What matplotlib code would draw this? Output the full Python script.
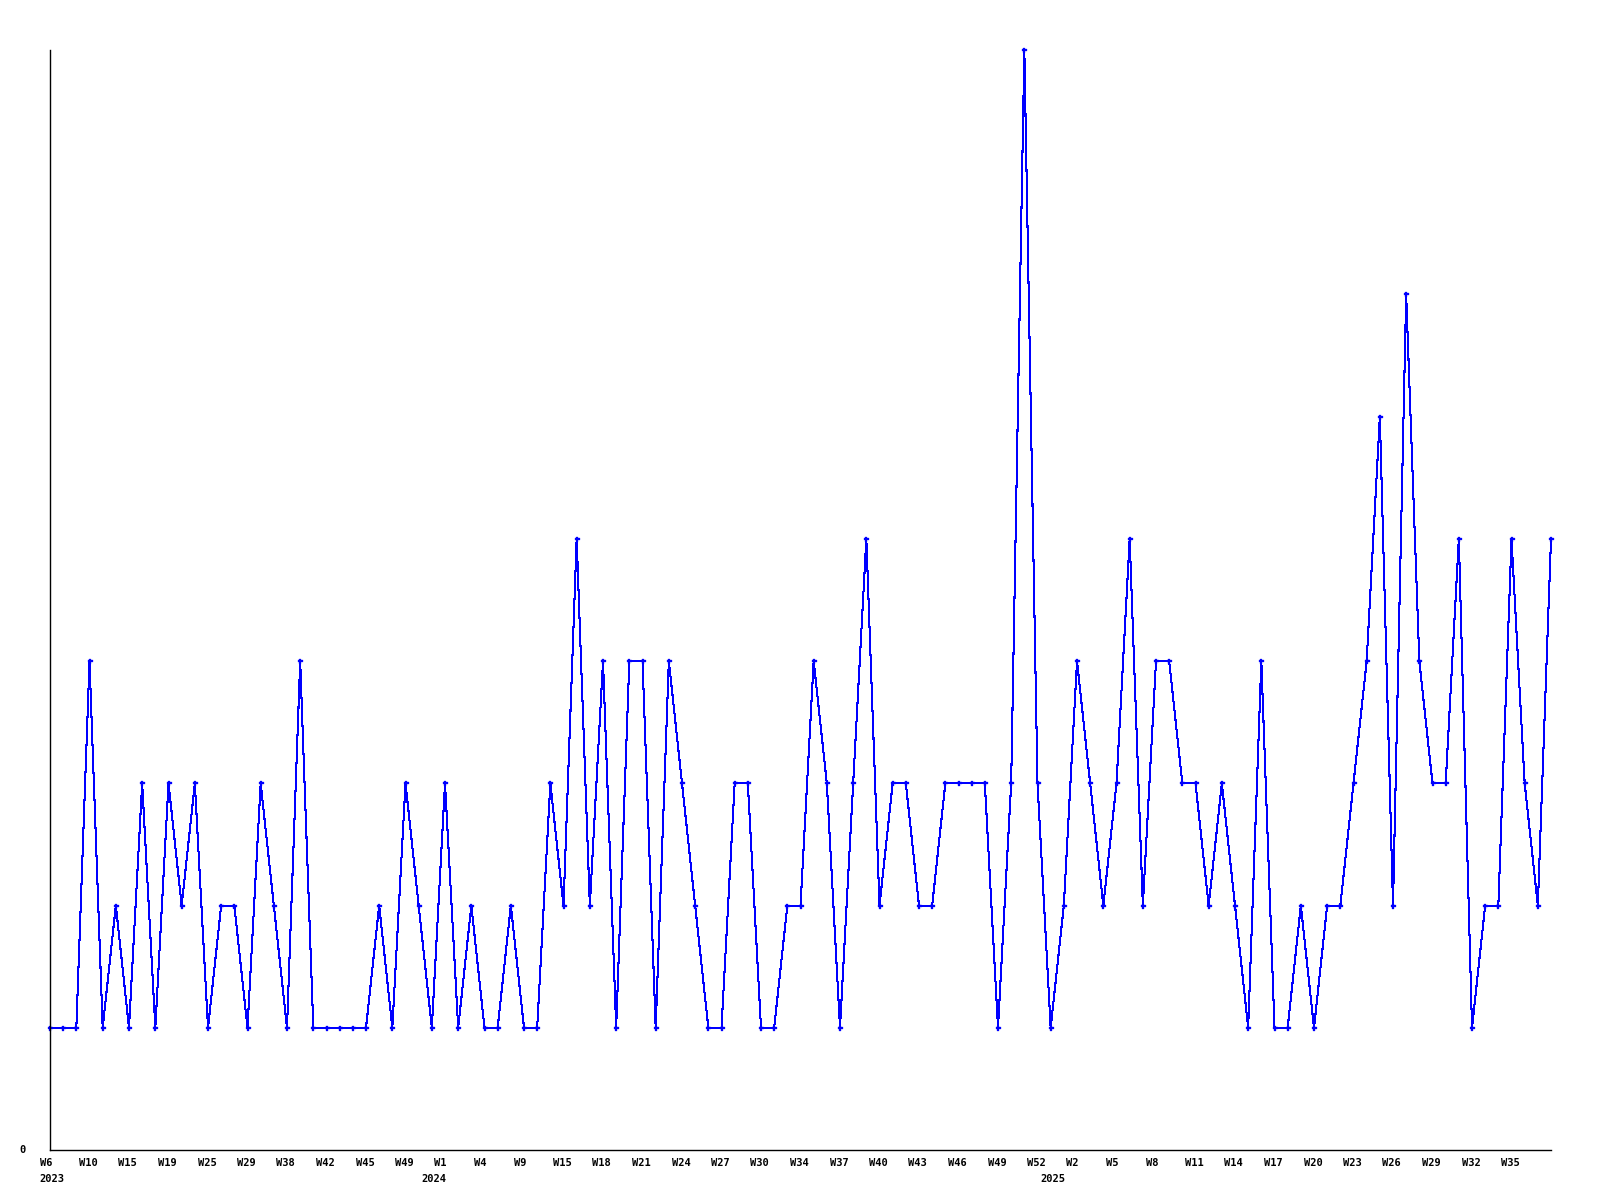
import matplotlib
matplotlib.use("Agg")
import matplotlib.pyplot as plt
import matplotlib.transforms as mtransforms

# ---- data ----
values = [
    1, 1, 1, 4, 1, 2, 1, 3, 1, 3, 2, 3, 1, 2, 2, 1, 3, 2, 1, 4, 1, 1, 1,
    1, 1, 2, 1, 3, 2, 1, 3, 1, 2, 1, 1, 2, 1, 1, 3, 2, 5, 2, 4, 1, 4, 4,
    1, 4, 3, 2, 1, 1, 3, 3, 1, 1, 2, 2, 4, 3, 1, 3, 5, 2, 3, 3, 2, 2, 3, 3,
    3, 3, 1, 3, 9, 3, 1, 2, 4, 3, 2, 3, 5, 2, 4, 4, 3, 3, 2, 3, 2, 1, 4, 1, 1,
    2, 1, 2, 2, 3, 4, 6, 2, 7, 4, 3, 3, 5, 1, 2, 2, 5, 3, 2, 5,
]
week_labels = [
    "W6", "W10", "W15", "W19", "W25", "W29", "W38", "W42", "W45", "W49",
    "W1", "W4", "W9", "W15", "W18", "W21", "W24", "W27", "W30", "W34",
    "W37", "W40", "W43", "W46", "W49", "W52",
    "W2", "W5", "W8", "W11", "W14", "W17", "W20", "W23", "W26", "W29",
    "W32", "W35",
]
label_step = 3
year_labels = ["2023", "2024", "2025"]
year_start_index = [0, 29, 76]

# ---- figure ----
W, H, DPI = 1600, 1200, 100
fig = plt.figure(figsize=(W / DPI, H / DPI), dpi=DPI)
ax = fig.add_axes([50 / W, 1 - 1150 / H, (1551 - 50) / W, (1150 - 50) / H])

x = list(range(len(values)))
ax.plot(x, values, color="#0000ff", linewidth=0.75, antialiased=False,
        clip_on=False)
ax.plot(x, values, linestyle="none", color="#0000ff", marker="P",
        markersize=3.6, markeredgewidth=0.2, clip_on=False)

ax.set_xlim(0, len(values) - 1)
ax.set_ylim(0, max(values))

for s in ["top", "right"]:
    ax.spines[s].set_visible(False)
for s in ["left", "bottom"]:
    ax.spines[s].set_color("black")
    ax.spines[s].set_linewidth(1.0)

ax.set_xticks([])
ax.set_yticks([])

font = dict(family="DejaVu Sans Mono", weight="bold", size=7.5, color="black")

xt = ax.get_xaxis_transform()
wk_tr = mtransforms.offset_copy(xt, fig=fig, x=-10.5, y=-16, units="dots")
yr_tr = mtransforms.offset_copy(xt, fig=fig, x=-10.5, y=-31.5, units="dots")
for k, lab in enumerate(week_labels):
    ax.text(k * label_step, 0, lab, transform=wk_tr, ha="left", va="baseline",
            **font)
for lab, idx in zip(year_labels, year_start_index):
    ax.text(idx, 0, lab, transform=yr_tr, ha="left", va="baseline", **font)

yt = ax.get_yaxis_transform()
zero_tr = mtransforms.offset_copy(yt, fig=fig, x=-24, y=-3, units="dots")
ax.text(0, 0, "0", transform=zero_tr, ha="right", va="baseline", **font)

fig.savefig("out.png", dpi=DPI, facecolor="white")
